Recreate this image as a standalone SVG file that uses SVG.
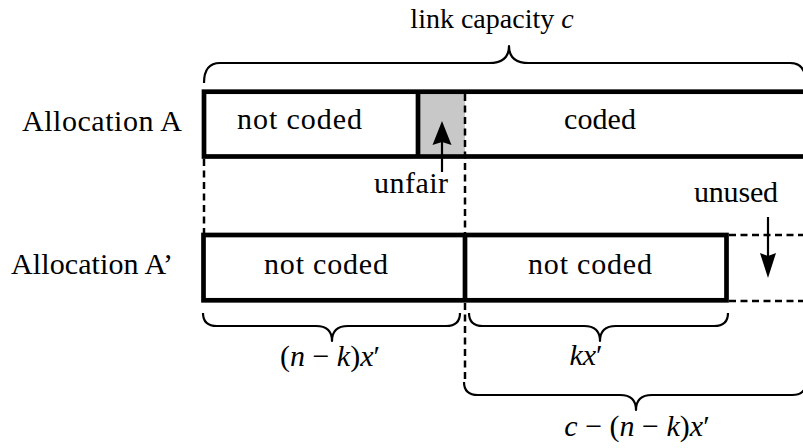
<svg xmlns="http://www.w3.org/2000/svg" width="803" height="448" viewBox="0 0 803 448">
<style>
.t{font-family:'Liberation Serif','DejaVu Serif','Noto Serif',serif;font-size:30px;fill:#000}
.it{font-style:italic}
.box{fill:none;stroke:#000;stroke-width:4.7}
.thick{stroke:#000;stroke-width:4.7;fill:none}
.dash{stroke:#000;stroke-width:2.5;stroke-dasharray:7 4.5;fill:none}
.brace{fill:none;stroke:#000;stroke-width:2.2;stroke-linejoin:round}
.shaft{stroke:#000;stroke-width:2.2}
</style>
<rect width="803" height="448" fill="#fff"/>
<g id="labels" font-family="Liberation Serif, DejaVu Serif, serif">
<text class="t" x="492" y="28" text-anchor="middle" style="font-size:28px">link capacity <tspan class="it">c</tspan></text>
<text class="t" x="22" y="131" textLength="160" lengthAdjust="spacing">Allocation A</text>
<text class="t" x="11" y="274" textLength="162" lengthAdjust="spacing">Allocation A’</text>
</g>
<g id="allocA" font-family="Liberation Serif, DejaVu Serif, serif">
<rect x="420" y="94" width="45" height="60" fill="#c8c8c8"/>
<rect class="box" x="204" y="91.7" width="640" height="64.8"/>
<line class="thick" x1="418" y1="91.7" x2="418" y2="156.5"/>
<text class="t" x="237" y="129" textLength="125" lengthAdjust="spacing">not coded</text>
<text class="t" x="564" y="129" textLength="72" lengthAdjust="spacing">coded</text>
</g>
<g id="allocA2" font-family="Liberation Serif, DejaVu Serif, serif">
<rect class="box" x="203.5" y="235" width="523" height="65.3"/>
<line class="thick" x1="465" y1="235" x2="465" y2="300.3"/>
<text class="t" x="264" y="274" textLength="124" lengthAdjust="spacing">not coded</text>
<text class="t" x="528" y="274" textLength="124" lengthAdjust="spacing">not coded</text>
</g>
<g id="unfair" font-family="Liberation Serif, DejaVu Serif, serif">
<line class="shaft" x1="442" y1="172" x2="442" y2="140"/>
<polygon points="442,121 451.5,145 442,142 432.5,145"/>
<text class="t" x="374" y="193" textLength="74" lengthAdjust="spacing">unfair</text>
</g>
<g id="unused" font-family="Liberation Serif, DejaVu Serif, serif">
<line class="shaft" x1="768" y1="217" x2="768" y2="258"/>
<polygon points="768,278 776,253 768,256 760,253"/>
<text class="t" x="694" y="202" textLength="84" lengthAdjust="spacing">unused</text>
</g>
<g id="connectors">
<line class="dash" x1="204" y1="159" x2="204" y2="233"/>
<line class="dash" x1="465" y1="94" x2="465" y2="233"/>
<line class="dash" x1="465" y1="303" x2="465" y2="382"/>
<line class="dash" x1="729" y1="235" x2="803" y2="235"/>
<line class="dash" x1="729" y1="301" x2="803" y2="301"/>
</g>
<g id="braces">
<path class="brace" d="M204,83 Q204,63 220,63 L489,63 Q509,63 509,46 Q509,63 529,63 L790,63 Q806,63 806,83"/>
<path class="brace" d="M203,313 Q203,326 217,326 L316,326 Q332,326 332,341 Q332,326 348,326 L446,326 Q460,326 460,313"/>
<path class="brace" d="M469,313 Q469,326 483,326 L584,326 Q600,326 600,341 Q600,326 616,326 L714,326 Q728,326 728,313"/>
<path class="brace" d="M464,382 Q464,395 478,395 L620,395 Q636,395 636,410 Q636,395 652,395 L792,395 Q806,395 806,382"/>
</g>
<g id="braceLabels" font-family="Liberation Serif, DejaVu Serif, serif">
<text class="t" x="330" y="366" text-anchor="middle">(<tspan class="it">n</tspan> − <tspan class="it">k</tspan>)<tspan class="it">x</tspan>′</text>
<text class="t" x="586" y="365" text-anchor="middle"><tspan class="it">kx</tspan>′</text>
<text class="t" x="637" y="436" text-anchor="middle"><tspan class="it">c</tspan> − (<tspan class="it">n</tspan> − <tspan class="it">k</tspan>)<tspan class="it">x</tspan>′</text>
</g>
</svg>
